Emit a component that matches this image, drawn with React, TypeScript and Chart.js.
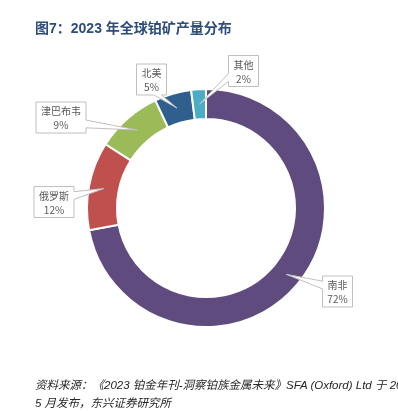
import React, { useEffect, useRef } from "react";
import { Chart, registerables } from "chart.js";

Chart.register(...registerables);

const regions = ["南非", "俄罗斯", "津巴布韦", "北美", "其他"];
const shares = [72, 12, 9, 5, 2];
const colors = ["#5f4b7e", "#c0504d", "#9bbb59", "#2f5f8f", "#4bacc6"];
// label box centres (layout only)
const boxCenters = [
  [337.5, 291.5],
  [54, 202],
  [61, 117.5],
  [151.5, 79.5],
  [243.5, 71],
];

const TITLE = "图7：2023 年全球铂矿产量分布";
const SOURCE1 = "资料来源：《2023 铂金年刊-洞察铂族金属未来》SFA (Oxford) Ltd  于 2023 年";
const SOURCE2 = "5  月发布，东兴证券研究所";

const calloutPlugin = {
  id: "callouts",
  afterDraw(chart: any) {
    const ctx = chart.ctx;
    const meta = chart.getDatasetMeta(0);
    ctx.save();
    ctx.font = '10px "Noto Sans CJK SC", "Liberation Sans", sans-serif';
    meta.data.forEach((arc: any, i: number) => {
      const tip = arc.getCenterPoint();
      const name = regions[i];
      const pct = shares[i] + "%";
      const tw = Math.max(ctx.measureText(name).width, ctx.measureText(pct).width);
      const w = Math.round(tw + 10);
      const h = 31;
      const [cx, cy] = boxCenters[i];
      const x0 = cx - w / 2, x1 = cx + w / 2, y0 = cy - h / 2, y1 = cy + h / 2;
      const dxPos = tip.x - cx, dyPos = tip.y - cy;
      const adx = Math.abs(dxPos * h), ady = Math.abs(dyPos * w);
      let side: string;
      if (ady > adx) side = dyPos > 0 ? "bottom" : "top";
      else side = dxPos > 0 ? "right" : "left";
      const xa = x0 + (w * (dxPos > 0 ? 7 : 2)) / 12;
      const xb = x0 + (w * (dxPos > 0 ? 10 : 5)) / 12;
      const ya = y0 + (h * (dyPos > 0 ? 7 : 2)) / 12;
      const yb = y0 + (h * (dyPos > 0 ? 10 : 5)) / 12;
      ctx.beginPath();
      ctx.moveTo(x0, y0);
      if (side === "top") { ctx.lineTo(xa, y0); ctx.lineTo(tip.x, tip.y); ctx.lineTo(xb, y0); }
      ctx.lineTo(x1, y0);
      if (side === "right") { ctx.lineTo(x1, ya); ctx.lineTo(tip.x, tip.y); ctx.lineTo(x1, yb); }
      ctx.lineTo(x1, y1);
      if (side === "bottom") { ctx.lineTo(xb, y1); ctx.lineTo(tip.x, tip.y); ctx.lineTo(xa, y1); }
      ctx.lineTo(x0, y1);
      if (side === "left") { ctx.lineTo(x0, yb); ctx.lineTo(tip.x, tip.y); ctx.lineTo(x0, ya); }
      ctx.closePath();
      ctx.fillStyle = "#ffffff";
      ctx.fill();
      ctx.lineWidth = 1;
      ctx.strokeStyle = "#bfbfbf";
      ctx.stroke();
      ctx.fillStyle = "#595959";
      ctx.textAlign = "center";
      ctx.textBaseline = "middle";
      ctx.fillText(name, cx, y0 + 9.5);
      ctx.fillText(pct, cx, y0 + 23.5);
    });
    ctx.restore();
  },
};

export default function App() {
  const ref = useRef<HTMLCanvasElement>(null);
  useEffect(() => {
    if (!ref.current) return;
    const chart = new Chart(ref.current, {
      type: "doughnut",
      data: {
        labels: regions,
        datasets: [
          {
            data: shares,
            backgroundColor: colors,
            borderColor: "#ffffff",
            borderWidth: 2,
            hoverOffset: 0,
          },
        ],
      },
      options: {
        responsive: false,
        animation: false,
        devicePixelRatio: 1,
        radius: 119,
        cutout: "74.8%",
        layout: { padding: { left: 14, top: 5, right: 0, bottom: 0 } },
        plugins: {
          legend: { display: false },
          tooltip: { enabled: false },
        },
      } as any,
      plugins: [calloutPlugin],
    });
    return () => chart.destroy();
  }, []);

  return (
    <div
      style={{
        position: "fixed",
        left: 0,
        top: 0,
        width: 398,
        height: 411,
        overflow: "hidden",
        background: "#ffffff",
      }}
    >
      <canvas
        ref={ref}
        width={398}
        height={411}
        style={{ position: "absolute", left: 0, top: 0, width: 398, height: 411 }}
      />
      <div
        style={{
          position: "absolute",
          left: 35,
          top: 19,
          whiteSpace: "nowrap",
          font: 'bold 14px "Liberation Sans", "Noto Sans CJK SC", sans-serif',
          color: "#2e4d7b",
          lineHeight: "18px",
        }}
      >
        {TITLE}
      </div>
      <div
        style={{
          position: "absolute",
          left: 35,
          top: 376,
          whiteSpace: "nowrap",
          font: 'italic 11.5px "Liberation Sans", "Noto Sans CJK SC", sans-serif',
          color: "#262626",
          lineHeight: "18px",
        }}
      >
        <div>{SOURCE1}</div>
        <div>{SOURCE2}</div>
      </div>
    </div>
  );
}
